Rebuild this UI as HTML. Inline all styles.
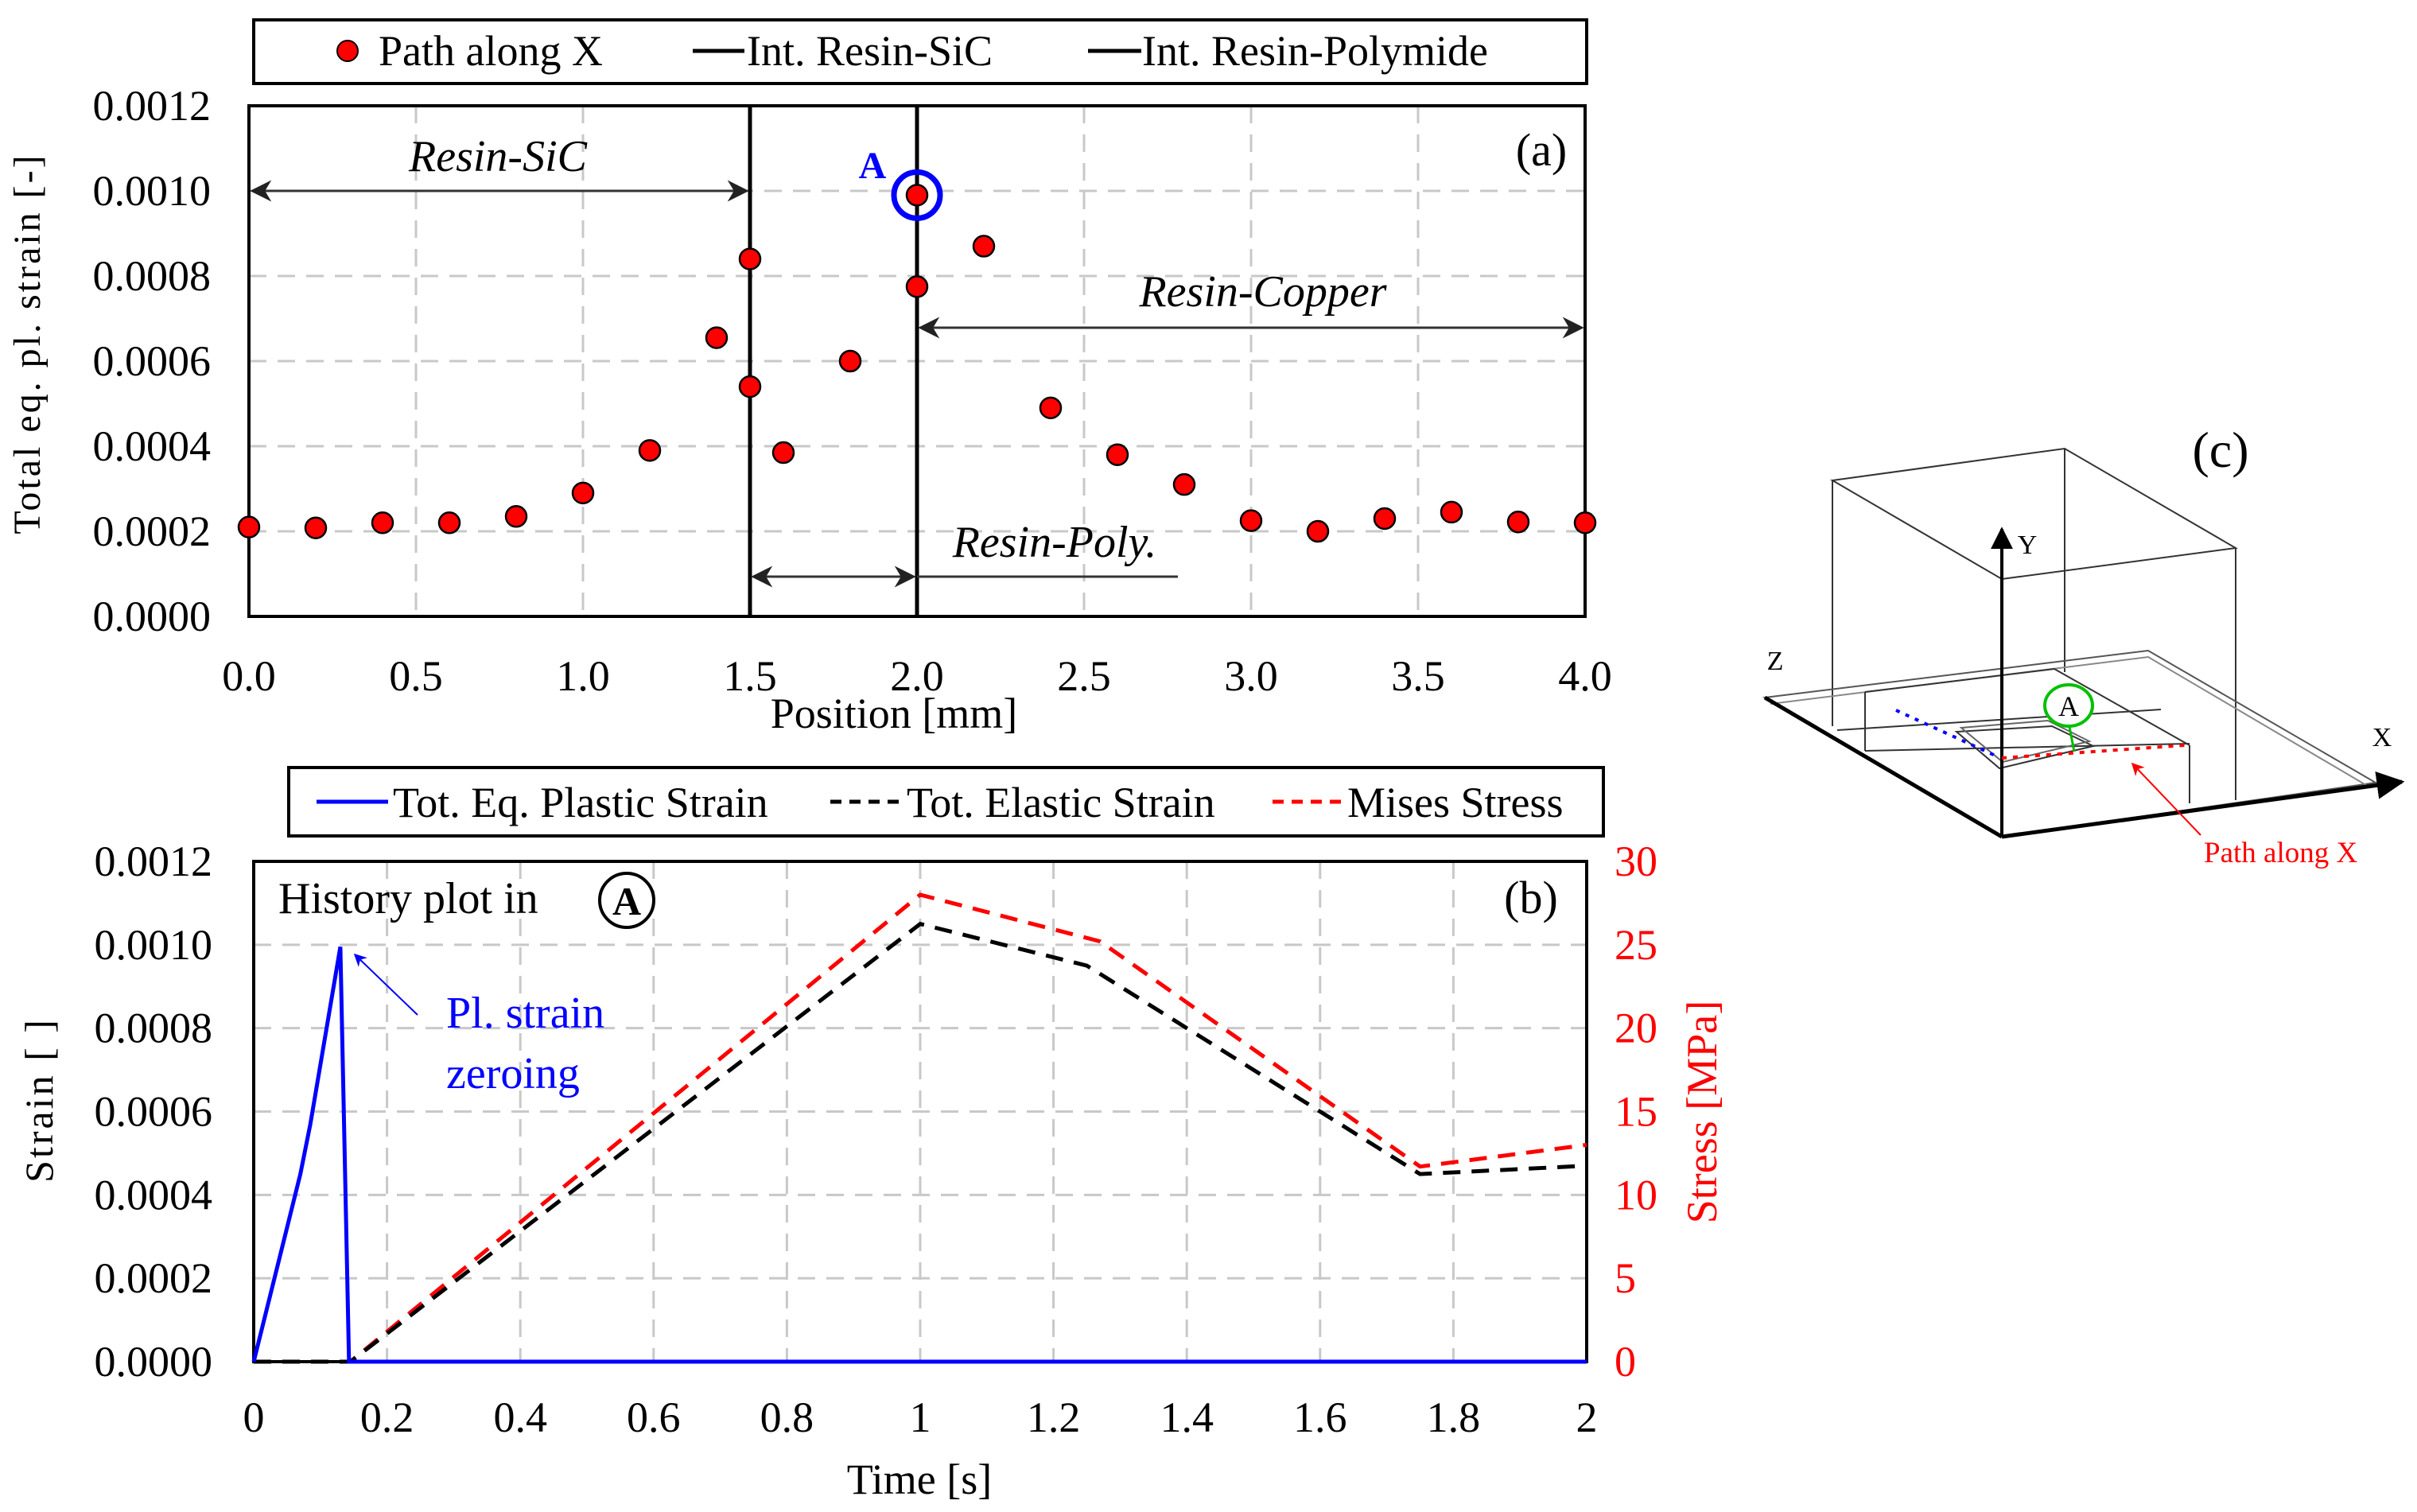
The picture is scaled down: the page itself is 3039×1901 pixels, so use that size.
<!DOCTYPE html>
<html><head><meta charset="utf-8"><style>
html,body{margin:0;padding:0;background:#fff;}
svg{display:block;font-family:"Liberation Serif",serif;}
</style></head><body>
<svg id="fig" width="3039" height="1901" viewBox="0 0 3039 1901" xmlns="http://www.w3.org/2000/svg">
<defs>
<marker id="ah" viewBox="0 0 10 10" refX="9" refY="5" markerWidth="9" markerHeight="9" orient="auto-start-reverse"><path d="M0,0 L10,5 L0,10 L3,5 z" fill="#222"/></marker>
<marker id="ahb" viewBox="0 0 10 10" refX="9" refY="5" markerWidth="8" markerHeight="8" orient="auto"><path d="M0,0 L10,5 L0,10 L3,5 z" fill="#0000ff"/></marker>
<marker id="ahr" viewBox="0 0 10 10" refX="9" refY="5" markerWidth="8" markerHeight="8" orient="auto"><path d="M0,0 L10,5 L0,10 L3,5 z" fill="#ff0000"/></marker>
<marker id="ahk" viewBox="0 0 10 10" refX="9" refY="5" markerWidth="7" markerHeight="7" orient="auto"><path d="M0,0 L10,5 L0,10 z" fill="#000"/></marker>
</defs>
<g id="ga"></g>
<g id="gb"></g>
<g id="gc">
  <text x="2792" y="587" font-size="64" text-anchor="middle">(c)</text>
  <g stroke="#333" stroke-width="2" fill="none">
    <polygon points="2304,604 2596,564 2811,689 2517,728"/>
    <line x1="2304" y1="604" x2="2304" y2="913"/>
    <line x1="2596" y1="564" x2="2596" y2="845"/>
    <line x1="2811" y1="689" x2="2811" y2="1006"/>
    <polygon points="2219,877 2701,818 2987,984 2517,1052" stroke="#555"/>
    <polyline points="2226,885 2701,826 2980,990" stroke="#888"/>
    <line x1="2345" y1="870" x2="2583" y2="841"/>
    <line x1="2345" y1="870" x2="2345" y2="944"/>
    <line x1="2345" y1="944" x2="2753" y2="935"/>
    <line x1="2583" y1="841" x2="2753" y2="937"/>
    <line x1="2753" y1="937" x2="2753" y2="1010"/>
    <line x1="2310" y1="918" x2="2717" y2="892"/>
    <polygon points="2460,920 2580,913 2632,938 2514,966"/>
    <polygon points="2466,915 2575,906 2627,932 2518,958" stroke="#666"/>
  </g>
  <line x1="2219" y1="877" x2="2517" y2="1052" stroke="#000" stroke-width="5"/>
  <line x1="2517" y1="1052" x2="3020" y2="983" stroke="#000" stroke-width="5" marker-end="url(#ahk)"/>
  <line x1="2517" y1="1052" x2="2517" y2="665" stroke="#000" stroke-width="4" marker-end="url(#ahk)"/>
  <text x="2549" y="696" font-size="34" text-anchor="middle">Y</text>
  <text x="2995" y="938" font-size="34" text-anchor="middle">X</text>
  <text x="2232" y="842" font-size="34" text-anchor="middle">Z</text>
  <line x1="2384" y1="893" x2="2511" y2="951" stroke="#0000ff" stroke-width="4" stroke-dasharray="5,8"/>
  <line x1="2517" y1="953" x2="2747" y2="937" stroke="#ff0000" stroke-width="4" stroke-dasharray="6,8"/>
  <line x1="2602" y1="914" x2="2608" y2="945" stroke="#00bb00" stroke-width="3"/>
  <ellipse cx="2601" cy="887" rx="30" ry="26" fill="#fff" stroke="#00c000" stroke-width="4"/>
  <text x="2601" y="900" font-size="36" text-anchor="middle">A</text>
  <line x1="2767" y1="1050" x2="2681" y2="960" stroke="#ff0000" stroke-width="2" marker-end="url(#ahr)"/>
  <text x="2771" y="1084" font-size="37" fill="#ff0000">Path along X</text>
</g>
</svg>
<script>
// ---------- Panel (a) data ----------
const posX = [0,0.2,0.4,0.6,0.8,1.0,1.2,1.4,1.5,1.5,1.6,1.8,2.0,2.0,2.2,2.4,2.6,2.8,3.0,3.2,3.4,3.6,3.8,4.0];
const strainA = [0.00021,0.000208,0.00022,0.00022,0.000235,0.00029,0.00039,0.000655,0.00084,0.00054,0.000385,0.0006,0.00099,0.000775,0.00087,0.00049,0.00038,0.00031,0.000225,0.0002,0.00023,0.000245,0.000222,0.00022];
const xTicksA = [0,0.5,1.0,1.5,2.0,2.5,3.0,3.5,4.0];
const xTickLabelsA = ["0.0","0.5","1.0","1.5","2.0","2.5","3.0","3.5","4.0"];
const yTicksA = [0,0.0002,0.0004,0.0006,0.0008,0.0010,0.0012];
const yTickLabelsA = ["0.0000","0.0002","0.0004","0.0006","0.0008","0.0010","0.0012"];
const interfacesA = [1.5,2.0];
// ---------- Panel (b) data ----------
const plTime = [0,0.07,0.085,0.13,0.143,2];
const plStrain = [0,0.00045,0.00057,0.000995,0,0];
const elTime = [0,0.145,1,1.25,1.75,2];
const elStrain = [0,0,0.00105,0.00095,0.00045,0.00047];
const stTime = [0,0.145,1,1.27,1.75,2];
const stStress = [0,0,28,25.2,11.7,13];
const xTicksB = [0,0.2,0.4,0.6,0.8,1,1.2,1.4,1.6,1.8,2];
const xTickLabelsB = ["0","0.2","0.4","0.6","0.8","1","1.2","1.4","1.6","1.8","2"];
const yTicksB = [0,0.0002,0.0004,0.0006,0.0008,0.0010,0.0012];
const yTickLabelsB = ["0.0000","0.0002","0.0004","0.0006","0.0008","0.0010","0.0012"];
const y2TicksB = [0,5,10,15,20,25,30];

const NS="http://www.w3.org/2000/svg";
function mk(parent,tag,attrs,text){const e=document.createElementNS(NS,tag);for(const k in attrs)e.setAttribute(k,attrs[k]);if(text!==undefined)e.textContent=text;parent.appendChild(e);return e;}

// ===== Panel A =====
const ga=document.getElementById('ga');


const A={l:313,r:1993,t:133,b:775};
const ax=v=>A.l+(v-0)/(4-0)*(A.r-A.l);
const ay=v=>A.b-(v-0)/(0.0012)*(A.b-A.t);
let lg=mk(ga,'g',{});


mk(lg,'rect',{x:319,y:25,width:1676,height:80,fill:'#fff',stroke:'#000','stroke-width':4});
mk(lg,'circle',{cx:437,cy:64,r:13,fill:'#ff0000',stroke:'#000','stroke-width':2});
mk(lg,'text',{x:476,y:82,'font-size':54},'Path along X');
mk(lg,'line',{x1:871,y1:64,x2:936,y2:64,stroke:'#000','stroke-width':5});
mk(lg,'text',{x:939,y:82,'font-size':54},'Int. Resin-SiC');
mk(lg,'line',{x1:1368,y1:64,x2:1435,y2:64,stroke:'#000','stroke-width':5});
mk(lg,'text',{x:1436,y:82,'font-size':54},'Int. Resin-Polymide');
xTicksA.forEach(v=>{ if(v>0&&v<4){const g=mk(ga,'line',{x1:ax(v),y1:A.t,x2:ax(v),y2:A.b,stroke:'#c8c8c8','stroke-width':3,'stroke-dasharray':'22,14'});

}});
yTicksA.forEach(v=>{ if(v>0&&v<0.0012){const g=mk(ga,'line',{x1:A.l,y1:ay(v),x2:A.r,y2:ay(v),stroke:'#c8c8c8','stroke-width':3,'stroke-dasharray':'22,14'});

}});
mk(ga,'rect',{x:A.l,y:A.t,width:A.r-A.l,height:A.b-A.t,fill:'none',stroke:'#000','stroke-width':4});
xTicksA.forEach((v,i)=>{const t=mk(ga,'text',{x:ax(v),y:868,'font-size':54,'text-anchor':'middle'},xTickLabelsA[i]);

});
yTicksA.forEach((v,i)=>{const t=mk(ga,'text',{x:265,y:ay(v)+18,'font-size':54,'text-anchor':'end'},yTickLabelsA[i]);

});
let tt=mk(ga,'text',{x:1124,y:915,'font-size':54,'text-anchor':'middle'},'Position [mm]');


tt=mk(ga,'text',{x:0,y:0,'font-size':48,'text-anchor':'middle','letter-spacing':3,transform:'translate(50,432) rotate(-90)'},'Total eq. pl. strain [-]');


interfacesA.forEach(v=>{const l=mk(ga,'line',{x1:ax(v),y1:A.t,x2:ax(v),y2:A.b,stroke:'#000','stroke-width':5});

});
mk(ga,'line',{x1:ax(0)+4,y1:ay(0.001),x2:ax(1.5)-4,y2:ay(0.001),stroke:'#333','stroke-width':3,'marker-start':'url(#ah)','marker-end':'url(#ah)'});
tt=mk(ga,'text',{x:626,y:215,'font-size':56,'font-style':'italic','text-anchor':'middle'},'Resin-SiC');


mk(ga,'line',{x1:ax(2)+4,y1:412,x2:ax(4)-4,y2:412,stroke:'#333','stroke-width':3,'marker-start':'url(#ah)','marker-end':'url(#ah)'});
tt=mk(ga,'text',{x:1588,y:385,'font-size':56,'font-style':'italic','text-anchor':'middle'},'Resin-Copper');


mk(ga,'line',{x1:ax(1.5)+4,y1:725,x2:ax(2)-4,y2:725,stroke:'#333','stroke-width':3,'marker-start':'url(#ah)','marker-end':'url(#ah)'});
mk(ga,'line',{x1:ax(2),y1:725,x2:1481,y2:725,stroke:'#333','stroke-width':3});
tt=mk(ga,'text',{x:1326,y:700,'font-size':56,'font-style':'italic','text-anchor':'middle'},'Resin-Poly.');


posX.forEach((v,i)=>{const c=mk(ga,'circle',{cx:ax(v),cy:ay(strainA[i]),r:13,fill:'#ff0000',stroke:'#000','stroke-width':2.5});

});
tt=mk(ga,'circle',{cx:ax(2),cy:ay(0.00099),r:29,fill:'none',stroke:'#0000ff','stroke-width':7});


tt=mk(ga,'text',{x:1097,y:224,'font-size':48,'font-weight':'bold',fill:'#0000ff','text-anchor':'middle'},'A');


tt=mk(ga,'text',{x:1938,y:208,'font-size':58,'text-anchor':'middle'},'(a)');



// ===== Panel B =====
const gb=document.getElementById('gb');


const B={l:319,r:1995,t:1083,b:1712};
const bx=v=>B.l+v/2*(B.r-B.l);
const by=v=>B.b-v/0.0012*(B.b-B.t);
const by2=v=>B.b-v/30*(B.b-B.t);
lg=mk(gb,'g',{});


mk(lg,'rect',{x:363,y:965,width:1653,height:86,fill:'#fff',stroke:'#000','stroke-width':4});
mk(lg,'line',{x1:398,y1:1008,x2:488,y2:1008,stroke:'#0000ff','stroke-width':5});
mk(lg,'text',{x:494,y:1027,'font-size':54},'Tot. Eq. Plastic Strain');
mk(lg,'line',{x1:1044,y1:1008,x2:1134,y2:1008,stroke:'#000','stroke-width':5,'stroke-dasharray':'14,10'});
mk(lg,'text',{x:1140,y:1027,'font-size':54},'Tot. Elastic Strain');
mk(lg,'line',{x1:1600,y1:1008,x2:1690,y2:1008,stroke:'#ff0000','stroke-width':5,'stroke-dasharray':'14,10'});
mk(lg,'text',{x:1694,y:1027,'font-size':54},'Mises Stress');
xTicksB.forEach(v=>{ if(v>0&&v<2){const g=mk(gb,'line',{x1:bx(v),y1:B.t,x2:bx(v),y2:B.b,stroke:'#c8c8c8','stroke-width':3,'stroke-dasharray':'22,14'});

}});
yTicksB.forEach(v=>{ if(v>0&&v<0.0012){const g=mk(gb,'line',{x1:B.l,y1:by(v),x2:B.r,y2:by(v),stroke:'#c8c8c8','stroke-width':3,'stroke-dasharray':'22,14'});

}});
mk(gb,'rect',{x:B.l,y:B.t,width:B.r-B.l,height:B.b-B.t,fill:'none',stroke:'#000','stroke-width':4});
xTicksB.forEach((v,i)=>{const t=mk(gb,'text',{x:bx(v),y:1800,'font-size':54,'text-anchor':'middle'},xTickLabelsB[i]);

});
yTicksB.forEach((v,i)=>{const t=mk(gb,'text',{x:267,y:by(v)+18,'font-size':54,'text-anchor':'end'},yTickLabelsB[i]);

});
y2TicksB.forEach(v=>{const t=mk(gb,'text',{x:2030,y:by2(v)+18,'font-size':54,fill:'#ff0000'},String(v));

});
tt=mk(gb,'text',{x:1156,y:1878,'font-size':54,'text-anchor':'middle'},'Time [s]');


tt=mk(gb,'text',{x:0,y:0,'font-size':50,'text-anchor':'middle','letter-spacing':3,transform:'translate(66,1383) rotate(-90)'},'Strain [ ]');


tt=mk(gb,'text',{x:0,y:0,'font-size':54,'text-anchor':'middle',fill:'#ff0000',transform:'translate(2158,1398) rotate(-90)'},'Stress [MPa]');


function pts(xs,ys,fy){return xs.map((v,i)=>bx(v)+','+fy(ys[i])).join(' ');}
tt=mk(gb,'polyline',{points:pts(stTime,stStress,by2),fill:'none',stroke:'#ff0000','stroke-width':5,'stroke-dasharray':'22,14'});


tt=mk(gb,'polyline',{points:pts(elTime,elStrain,by),fill:'none',stroke:'#000','stroke-width':5,'stroke-dasharray':'22,14'});


tt=mk(gb,'polyline',{points:pts(plTime,plStrain,by),fill:'none',stroke:'#0000ff','stroke-width':5});


tt=mk(gb,'text',{x:350,y:1148,'font-size':56},'History plot in');


mk(gb,'circle',{cx:788,cy:1132,r:34,fill:'none',stroke:'#000','stroke-width':4});
mk(gb,'text',{x:788,y:1150,'font-size':50,'font-weight':'bold','text-anchor':'middle'},'A');
tt=mk(gb,'text',{x:1925,y:1148,'font-size':58,'text-anchor':'middle'},'(b)');


mk(gb,'line',{x1:525,y1:1276,x2:446,y2:1200,stroke:'#0000ff','stroke-width':2,'marker-end':'url(#ahb)'});
tt=mk(gb,'text',{x:561,y:1292,'font-size':56,fill:'#0000ff'},'Pl. strain');


mk(gb,'text',{x:561,y:1368,'font-size':56,fill:'#0000ff'},'zeroing');
</script>
</body></html>
